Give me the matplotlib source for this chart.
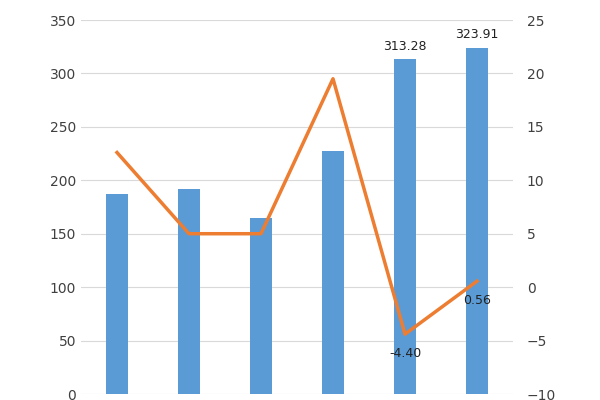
import matplotlib.pyplot as plt

categories = ['1', '2', '3', '4', '5', '6']
bar_values = [187, 192, 165, 227, 313.28, 323.91]
line_values = [12.6, 5.0, 5.0, 19.5, -4.40, 0.56]
bar_labels = {4: '313.28', 5: '323.91'}
line_labels = {4: '-4.40', 5: '0.56'}

fig = plt.figure(figsize=(6, 4), dpi=100)
ax = fig.add_axes([0.135, 0.015, 0.72, 0.935])
x = range(len(categories))
ax.bar(x, bar_values, width=0.3, color='#5b9bd5', zorder=2)
ax.set_ylim(0, 350)
ax.set_yticks(range(0, 351, 50))
ax.set_xlim(-0.5, 5.5)
ax.set_xticks([])
ax.grid(axis='y', color='#d9d9d9', linewidth=0.8, zorder=0)
for s in ax.spines.values():
    s.set_visible(False)
ax.tick_params(length=0, labelsize=10, colors='#404040')
for i, t in bar_labels.items():
    ax.text(i, bar_values[i] + 6, t, ha='center', va='bottom', fontsize=9, color='#222222')

ax2 = ax.twinx()
ax2.plot(x, line_values, color='#ed7d31', linewidth=2.5, zorder=3)
ax2.set_ylim(-10, 25)
ax2.set_yticks(range(-10, 26, 5))
for s in ax2.spines.values():
    s.set_visible(False)
ax2.tick_params(length=0, labelsize=10, colors='#404040', pad=10)
for i, t in line_labels.items():
    ax2.text(i, line_values[i] - 1.2, t, ha='center', va='top', fontsize=9, color='#222222')

fig.savefig('out.png', dpi=100)
